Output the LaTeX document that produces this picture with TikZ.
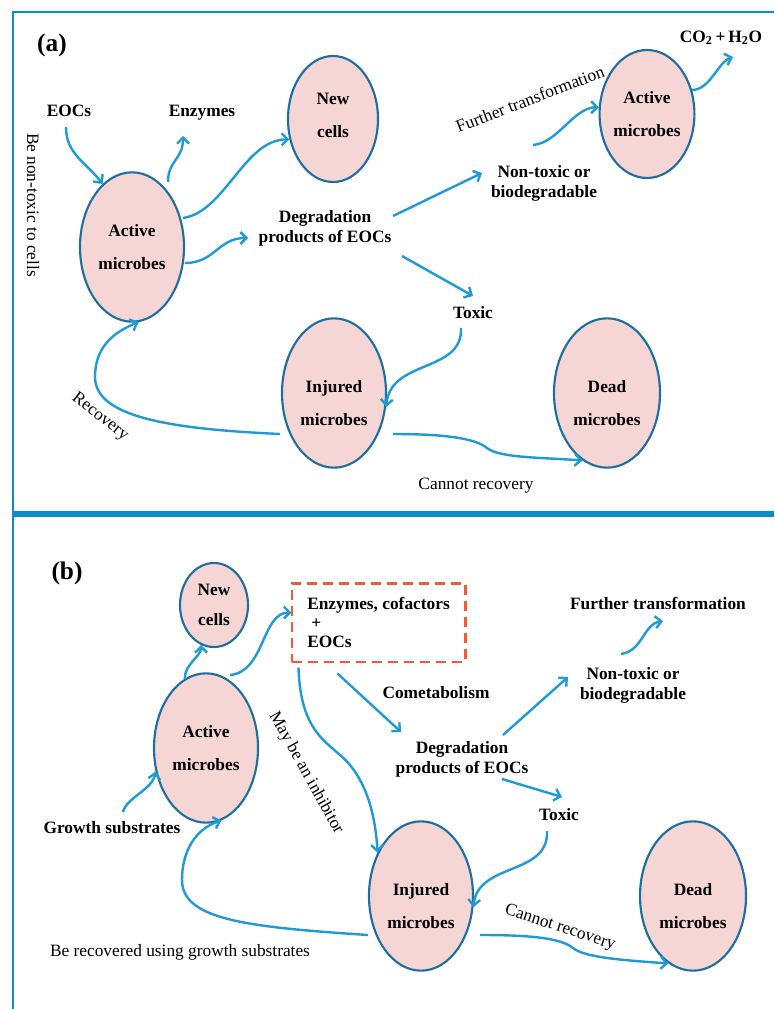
\documentclass[tikz,border=0pt]{standalone}
\usepackage{fontspec}
\setmainfont{Liberation Serif}
\usetikzlibrary{shapes.geometric,arrows.meta,calc}
\definecolor{flowblue}{RGB}{30,155,215}
\definecolor{frameblue}{RGB}{10,140,205}
\definecolor{cellline}{RGB}{30,110,160}
\definecolor{cellpink}{RGB}{245,214,212}
\definecolor{boxred}{RGB}{240,90,55}
\newcommand{\lowtext}{\rule{0pt}{24pt}}
\begin{document}
\begin{tikzpicture}[x=0.75pt,y=-0.75pt,
  cell/.style={ellipse,draw=cellline,fill=cellpink,line width=1.6pt,inner sep=0pt,
    align=center,font=\bfseries\fontsize{13}{25}\selectfont},
  lbl/.style={align=center,font=\bfseries\fontsize{13}{15}\selectfont},
  note/.style={font=\fontsize{13}{15}\selectfont},
  flow/.style={draw=flowblue,line width=1.8pt,-{Straight Barb[length=4.5pt,width=9pt]}},
  frame/.style={draw=frameblue,line width=2.2pt}]

\useasboundingbox (0,0) rectangle (774,1009);
\draw[frame] (13,1009) -- (13,12) -- (774,12);
\draw[frame,line width=3.8pt] (13,514) -- (774,514);

% (a)
\node[lbl,font=\bfseries\fontsize{19}{20}\selectfont] (labA) at (52,45) {(a)};
\node[lbl] (eocsA) at (69,111) {EOCs};
\node[lbl] (enzA) at (202,113) {Enzymes};
\node[cell,minimum width=67.5pt,minimum height=94.5pt] (newA) at (333,119) {New\\cells\rule[-6pt]{0pt}{6pt}};
\node[cell,minimum width=78pt,minimum height=112pt] (actA) at (132,247) {Active\\microbes};
\node[lbl] (degA) at (325,228) {Degradation\\products of EOCs};
\node[lbl] (ntA) at (544,183) {Non-toxic or\\biodegradable};
\node[note,rotate=21] (ftA) at (530,99) {Further transformation};
\node[cell,minimum width=70.5pt,minimum height=96pt] (actA2) at (647,114) {Active\\microbes};
\node[lbl] (co2A) at (721,38) {CO\textsubscript{2}\,+\,H\textsubscript{2}O};
\node[lbl] (toxA) at (473,313) {Toxic};
\node[cell,minimum width=78pt,minimum height=112pt] (injA) at (334,393) {\lowtext Injured\\microbes};
\node[cell,minimum width=79.5pt,minimum height=112pt] (deadA) at (607,393) {\lowtext Dead\\microbes};
\node[note,rotate=-38] (recA) at (100,417) {Recovery};
\node[note] (cannotA) at (476,486) {Cannot recovery};
\node[note,rotate=-90] (safeA) at (33,205) {Be non-toxic to cells};

\draw[flow] ($(eocsA)+(-3,16)$) .. controls +(0,27) and +(-17,-22) .. (actA.115);
\draw[flow] ($(actA)+(36,-65)$) .. controls +(0,-22) and +(0,24) .. ($(enzA)+(-19,23)$);
\draw[flow] ($(actA)+(51,-29)$) .. controls +(42,-6) and +(-45,0) .. (newA.205);
\draw[flow] ($(actA)+(53,16)$) .. controls +(30,0) and +(-30,0) .. ($(degA)+(-77,10)$);
\draw[flow] ($(degA)+(68,-12)$) -- ($(ntA)+(-62,-10)$);
\draw[flow] ($(ntA)+(-11,-38)$) .. controls +(25,-2) and +(-25,0) .. (actA2.172);
\draw[flow] ($(actA2)+(45,-24)$) .. controls +(18,0) and +(-15,5) .. ($(co2A)+(12,19)$);
\draw[flow] ($(degA)+(77,28)$) -- ($(toxA)+(0,-17)$);
\draw[flow] ($(toxA)+(-12,15)$) .. controls +(2,45) and +(4,-48) .. (injA.-15);
\draw[flow] ($(injA)+(-54,41)$) .. controls +(-110,-5) and +(0,40) .. ($(actA)+(-37,130)$)
  .. controls +(0,-30) and +(-25,10) .. (actA.-85);
\draw[flow] ($(injA)+(59,41)$) .. controls +(50,0) and +(-12,-10) .. ($(deadA)+(-120,55)$)
  .. controls +(12,10) and +(-40,-3) .. (deadA.-110);

% (b)
\node[lbl,font=\bfseries\fontsize{19}{20}\selectfont] (labB) at (67,573) {(b)};
\node[cell,minimum width=51pt,minimum height=63pt,font=\bfseries\fontsize{13}{23}\selectfont] (newB) at (214,605) {New\\cells};
\node[draw=boxred,line width=2pt,dash pattern=on 7.5pt off 4.5pt,minimum width=130pt,minimum height=59pt,
  align=left,font=\bfseries\fontsize{13}{14}\selectfont] (boxB) at (378.5,622.5) {Enzymes, cofactors\\\hspace{3pt}+\\EOCs};
\node[cell,minimum width=78pt,minimum height=112pt] (actB) at (206,748) {Active\\microbes};
\node[lbl] (growthB) at (112,828) {Growth substrates};
\node[note,rotate=-61] (inhibB) at (306,773) {May be an inhibitor};
\node[lbl] (cometB) at (436,693) {Cometabolism};
\node[lbl] (ftB) at (658,603) {Further transformation};
\node[lbl] (ntB) at (633,685) {Non-toxic or\\biodegradable};
\node[lbl] (degB) at (462,759) {Degradation\\products of EOCs};
\node[lbl] (toxB) at (559,815) {Toxic};
\node[cell,minimum width=78pt,minimum height=112pt] (injB) at (421,896) {\lowtext Injured\\microbes};
\node[cell,minimum width=79.5pt,minimum height=112pt] (deadB) at (693,896) {\lowtext Dead\\microbes};
\node[note,rotate=-18] (cannotB) at (560,928) {Cannot recovery};
\node[note] (recB) at (180,952) {Be recovered using growth substrates};

\draw[flow] (actB.107) .. controls +(0,-15) and +(0,12) .. (newB.-108);
\draw[flow] ($(actB)+(24,-73)$) .. controls +(35,-3) and +(-30,0) .. ($(boxB)+(-87,-10)$);
\draw[flow] ($(growthB)+(11,-16)$) .. controls +(3,-14) and +(-3,18) .. (actB.205);
\draw[flow] ($(boxB)+(-41,51)$) -- ($(degB)+(-61,-27)$);
\draw[flow] ($(boxB)+(-80,45)$) .. controls +(2,70) and +(-18,-22) .. ($(injB)+(-71,-131)$)
  .. controls +(18,22) and +(-2,-35) .. (injB.135);
\draw[flow] ($(degB)+(41,-24)$) -- ($(ntB)+(-65,-8)$);
\draw[flow] ($(ntB)+(-12,-31)$) .. controls +(22,-3) and +(-20,3) .. ($(ftB)+(5,18)$);
\draw[flow] ($(degB)+(40,20)$) -- ($(toxB)+(3,-18)$);
\draw[flow] ($(toxB)+(-12,16)$) .. controls +(2,45) and +(4,-45) .. (injB.-12);
\draw[flow] ($(injB)+(-53,39)$) .. controls +(-120,-8) and +(0,40) .. ($(actB)+(-24,132)$)
  .. controls +(0,-30) and +(-25,8) .. (actB.-78);
\draw[flow] ($(injB)+(59,39)$) .. controls +(50,0) and +(-12,-10) .. ($(deadB)+(-120,52)$)
  .. controls +(12,10) and +(-40,-3) .. (deadB.-110);

\end{tikzpicture}
\end{document}
